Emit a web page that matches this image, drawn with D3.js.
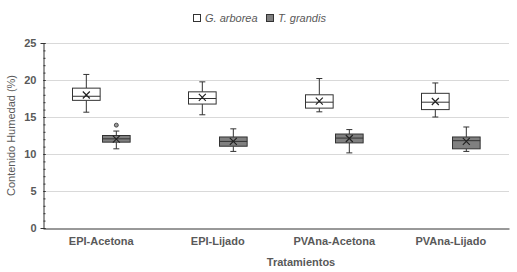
<!DOCTYPE html>
<html>
<head>
<meta charset="utf-8">
<script src="https://cdn.jsdelivr.net/npm/d3@7"></script>
<style>
  body { margin: 0; background: #fff; }
  text { font-family: "Liberation Sans", Arial, sans-serif; }
</style>
</head>
<body>
<script>
// Tratamientos y especies
const categories = ["EPI-Acetona", "EPI-Lijado", "PVAna-Acetona", "PVAna-Lijado"];
const species = ["G. arborea", "T. grandis"];
const speciesFill = ["#ffffff", "#808080"];

// Valores: [min, q1, mediana, q3, max]
const arboreaStats = [
	[15.65, 17.25, 17.8, 18.9, 20.75],
	[15.3, 16.75, 17.5, 18.4, 19.75],
	[15.7, 16.2, 17.0, 18.0, 20.2],
	[15.0, 16.0, 17.0, 18.2, 19.6]
];
const grandisStats = [
	[10.7, 11.6, 12.05, 12.5, 13.1],
	[10.35, 11.05, 11.7, 12.3, 13.4],
	[10.15, 11.5, 12.15, 12.7, 13.3],
	[10.35, 10.7, 11.8, 12.3, 13.65]
];
const arboreaMeans = [17.97, 17.65, 17.15, 17.1];
const grandisMeans = [12.0, 11.7, 12.1, 11.7];
const outliers = [{ cat: "EPI-Acetona", sp: "T. grandis", value: 13.9 }];
const yTicks = [0, 5, 10, 15, 20, 25];

const W = 517, H = 272;
const margin = { top: 43, right: 8, bottom: 44, left: 43 };

const svg = d3.select("body").append("svg")
	.attr("width", W)
	.attr("height", H);

const x0 = d3.scaleBand()
	.domain(categories)
	.range([margin.left, W - margin.right]);

const x1 = d3.scaleBand()
	.domain(species)
	.range([x0.bandwidth() / 2 - 29.5, x0.bandwidth() / 2 + 28.8])
	.paddingInner(0.098);

const y = d3.scaleLinear()
	.domain([0, 25])
	.range([H - margin.bottom, margin.top]);

// Líneas de cuadrícula
svg.append("g")
	.selectAll("line")
	.data(yTicks.filter(d => d > 0))
	.join("line")
	.attr("x1", margin.left)
	.attr("x2", W - margin.right)
	.attr("y1", d => Math.round(y(d)) + 0.5)
	.attr("y2", d => Math.round(y(d)) + 0.5)
	.attr("stroke", "#d9d9d9")
	.attr("stroke-width", 1);

// Eje Y con ticks menores
svg.append("g")
	.attr("transform", `translate(${margin.left + 0.5},0)`)
	.call(d3.axisLeft(y).tickValues(d3.range(0, 26, 1)).tickSize(3).tickFormat(""))
	.call(g => g.selectAll(".tick line").attr("x2", 2).attr("stroke", "#333"))
	.call(g => g.select(".domain").attr("stroke", "#333"));

svg.append("g")
	.attr("transform", `translate(${margin.left + 0.5},0)`)
	.call(d3.axisLeft(y).tickValues(yTicks).tickSize(3).tickPadding(4))
	.call(g => g.select(".domain").remove())
	.call(g => g.selectAll(".tick line").attr("x2", 2).attr("stroke", "#333"))
	.call(g => g.selectAll("text")
		.style("font-size", "11px")
		.style("font-weight", "bold")
		.attr("fill", "#595959"));

// Eje X
svg.append("g")
	.attr("transform", `translate(0,${Math.round(y(0)) + 0.5})`)
	.call(d3.axisBottom(x0).tickSize(0).tickPadding(9))
	.call(g => g.select(".domain").attr("stroke", "#333"))
	.call(g => g.selectAll("text")
		.style("font-size", "11px")
		.style("font-weight", "bold")
		.attr("fill", "#595959"));

// Títulos de ejes
svg.append("text")
	.attr("x", (margin.left + W - margin.right) / 2 + 25)
	.attr("y", 266)
	.attr("text-anchor", "middle")
	.style("font-size", "11px")
	.style("font-weight", "bold")
	.attr("fill", "#595959")
	.text("Tratamientos");

svg.append("text")
	.attr("transform", "rotate(-90)")
	.attr("x", -(margin.top + H - margin.bottom) / 2)
	.attr("y", 15)
	.attr("text-anchor", "middle")
	.style("font-size", "11px")
	.attr("fill", "#595959")
	.text("Contenido Humedad (%)");

// Cajas
const boxes = [];
categories.forEach((c, i) => {
	boxes.push({ cat: c, sp: species[0], s: arboreaStats[i], mean: arboreaMeans[i], fill: speciesFill[0] });
	boxes.push({ cat: c, sp: species[1], s: grandisStats[i], mean: grandisMeans[i], fill: speciesFill[1] });
});

const bw = x1.bandwidth();
const boxG = svg.append("g")
	.selectAll("g")
	.data(boxes)
	.join("g")
	.attr("transform", d => `translate(${Math.round(x0(d.cat) + x1(d.sp)) + 0.5},0)`);

// Bigotes
boxG.append("line")
	.attr("x1", bw / 2).attr("x2", bw / 2)
	.attr("y1", d => y(d.s[4])).attr("y2", d => y(d.s[3]))
	.attr("stroke", "#333");
boxG.append("line")
	.attr("x1", bw / 2).attr("x2", bw / 2)
	.attr("y1", d => y(d.s[1])).attr("y2", d => y(d.s[0]))
	.attr("stroke", "#333");
boxG.append("line")
	.attr("x1", bw / 2 - 3).attr("x2", bw / 2 + 3)
	.attr("y1", d => y(d.s[4])).attr("y2", d => y(d.s[4]))
	.attr("stroke", "#333");
boxG.append("line")
	.attr("x1", bw / 2 - 3).attr("x2", bw / 2 + 3)
	.attr("y1", d => y(d.s[0])).attr("y2", d => y(d.s[0]))
	.attr("stroke", "#333");

boxG.append("rect")
	.attr("x", 0)
	.attr("width", bw)
	.attr("y", d => y(d.s[3]))
	.attr("height", d => y(d.s[1]) - y(d.s[3]))
	.attr("fill", d => d.fill)
	.attr("stroke", "#333");

boxG.append("line")
	.attr("x1", 0).attr("x2", bw)
	.attr("y1", d => y(d.s[2])).attr("y2", d => y(d.s[2]))
	.attr("stroke", "#333");

// Media (X)
boxG.append("path")
	.attr("d", d => {
		const cx = bw / 2, cy = y(d.mean), r = 3.5;
		return `M${cx - r},${cy - r}L${cx + r},${cy + r}M${cx - r},${cy + r}L${cx + r},${cy - r}`;
	})
	.attr("stroke", "#222")
	.attr("stroke-width", 1.2);

// Valores atípicos
svg.append("g")
	.selectAll("circle")
	.data(outliers)
	.join("circle")
	.attr("cx", d => Math.round(x0(d.cat) + x1(d.sp)) + 0.5 + bw / 2)
	.attr("cy", d => y(d.value))
	.attr("r", 2)
	.attr("fill", "#999")
	.attr("stroke", "#333")
	.attr("stroke-width", 0.8);

// Leyenda
const legend = svg.append("g").attr("transform", "translate(193,14)");
const legendX = [0, 73];
species.forEach((sp, i) => {
	const row = legend.append("g").attr("transform", `translate(${legendX[i]},0)`);
	row.append("rect")
		.attr("x", 0.5).attr("y", 0.5)
		.attr("width", 7).attr("height", 7)
		.attr("fill", speciesFill[i])
		.attr("stroke", "#333");
	row.append("text")
		.attr("x", 12)
		.attr("y", 8)
		.style("font-size", "11px")
		.style("font-style", "italic")
		.attr("fill", "#595959")
		.text(sp);
});
</script>
</body>
</html>
